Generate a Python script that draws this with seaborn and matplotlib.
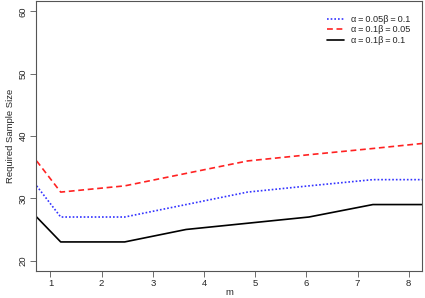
import pandas as pd
import numpy as np
import matplotlib
matplotlib.use('Agg')
import matplotlib.pyplot as plt
import seaborn as sns

# values
m_vals = [0.73, 1.2, 2.45, 3.65, 4.85, 6.05, 7.3, 8.5]
n_a05_b10 = [32, 27, 27, 29, 31, 32, 33, 33]
n_a10_b05 = [36, 31, 32, 34, 36, 37, 38, 39]
n_a10_b10 = [27, 23, 23, 25, 26, 27, 29, 29]
labels = ['\u03b1\u2009=\u20090.05\u03b2\u2009=\u20090.1',
          '\u03b1\u2009=\u20090.1\u03b2\u2009=\u20090.05',
          '\u03b1\u2009=\u20090.1\u03b2\u2009=\u20090.1']
colors = ['#3333ff', '#ff2222', 'black']
x_ticks = [1, 2, 3, 4, 5, 6, 7, 8]
y_ticks = [20, 30, 40, 50, 60]


def plot():
    sns.set_style('white')
    plt.rcParams['font.family'] = ['Liberation Sans', 'DejaVu Sans']

    df = pd.DataFrame({
        'm': m_vals * 3,
        'n': n_a05_b10 + n_a10_b05 + n_a10_b10,
        'grp': [labels[0]] * len(m_vals) + [labels[1]] * len(m_vals) + [labels[2]] * len(m_vals),
    })

    fig = plt.figure(figsize=(4.25, 2.98), dpi=100)
    ax = fig.add_axes([0.085, 0.092, 0.908, 0.903])

    styles = [(0, (1, 1.2)), (0, (3.5, 2.2)), '-']
    for lab, col, ls in zip(labels, colors, styles):
        sub = df[df['grp'] == lab]
        sns.lineplot(x='m', y='n', data=sub, ax=ax, color=col, linestyle=ls,
                     linewidth=1.2, label=lab, estimator=None, sort=False)

    ax.set_xlim(0.72, 8.26)
    ax.set_ylim(18.4, 61.6)
    ax.set_xticks(x_ticks)
    ax.set_yticks(y_ticks)
    ax.set_yticklabels([str(v) for v in y_ticks], rotation=90, va='center')
    ax.tick_params(axis='both', direction='out', length=4, width=0.6, labelsize=6.8,
                   color='#555555', bottom=True, left=True, pad=2)
    for s in ax.spines.values():
        s.set_color('#555555')
        s.set_linewidth(0.8)

    ax.set_xlabel('m', fontsize=6.8, labelpad=0)
    ax.set_ylabel('Required Sample Size', fontsize=6.8, labelpad=3)

    ax.legend(loc='upper right', frameon=False, fontsize=6.6,
              handlelength=1.9, handletextpad=0.7, labelspacing=0.15,
              bbox_to_anchor=(0.99, 0.98))

    plt.savefig('out.png', dpi=100)
    plt.close()


if __name__ == "__main__":
    plot()
